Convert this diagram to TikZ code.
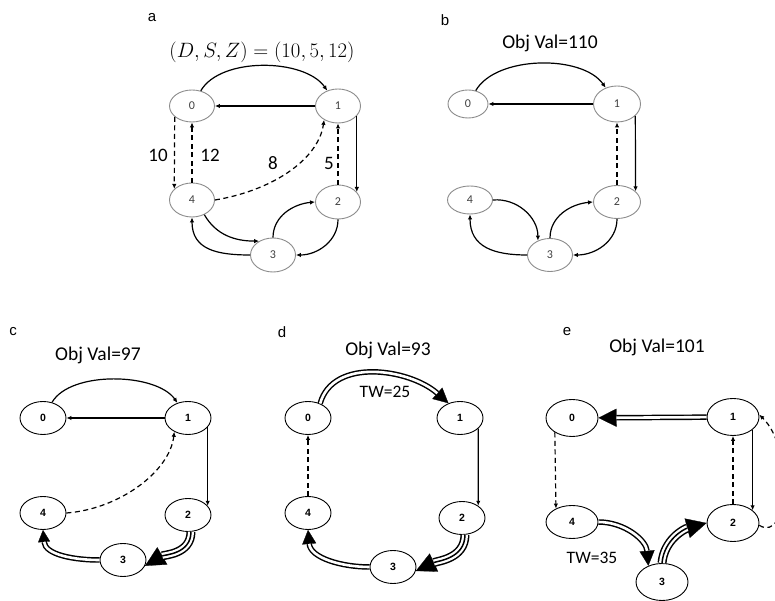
\documentclass[tikz,border=0pt]{standalone}
\usepackage{fontspec}
\setmainfont{Carlito}
\newfontfamily\arialf{Liberation Sans}
\usetikzlibrary{arrows.meta,shapes.geometric}
\begin{document}
\begin{tikzpicture}[x=1pt,y=1pt,
  nbase/.style={ellipse, inner sep=0pt, line width=0.9pt},
  na/.style={nbase, draw=black!45, minimum width=45pt, minimum height=34pt, text=black!75, font=\fontsize{12}{12}\selectfont},
  nc/.style={nbase, draw=black, minimum width=46pt, minimum height=33pt, font=\arialf\bfseries\fontsize{10.5}{10.5}\selectfont},
  ne/.style={nc, minimum width=52pt, minimum height=37pt},
  lbl/.style={font=\arialf\fontsize{15}{15}\selectfont},
  ttl/.style={font=\fontsize{19.5}{19.5}\selectfont},
  elbl/.style={font=\fontsize{19}{19}\selectfont},
  ed/.style={line width=1.2pt, -{Latex[length=5pt,width=4.5pt]}},
  dsh/.style={dash pattern=on 5pt off 3.5pt},
  dbl/.style={line width=5.5pt, -{Triangle[length=#1,width=#1,line width=0.3pt]},
    postaction={draw=white, line width=2.6pt, -, shorten >=#1}},
  trp/.style={line width=9pt, -{Triangle[length=#1,width=#1,line width=0.3pt]},
    postaction={draw=white, line width=6pt, -, shorten >=#1},
    postaction={draw=black, line width=1.5pt, -, shorten >=#1}}
]
\useasboundingbox (0,0) rectangle (775,601);
\fill[white] (0,0) rectangle (775,601);

% ---------------- panel a ----------------
\node[lbl] (la) at (152,583) {a};
\node[ttl, font=\fontsize{20}{20}\selectfont] (ta) at (262,549) {$(D,S,Z)=(10,5,12)$};
\node[na, minimum height=32pt] (a0) at (192,495) {0};
\node[na] (a1) at (338,495) {1};
\node[na] (a4) at (192,401) {4};
\node[na] (a2) at (338,399) {2};
\node[na] (a3) at (273,346) {3};
\draw[ed] (a0) to[out=60,in=125,looseness=0.8] (a1);
\draw[ed] (a1) -- (a0);
\draw[ed] (a1.-28) -- (a2.28);
\draw[ed,dsh] (a2) -- (a1);
\draw[ed,dsh] (a0.212) -- (a4.148);
\draw[ed,dsh] (a4) -- (a0);
\draw[ed,dsh] (a4.east) .. controls (270,410) and (318,440) .. (a1.225);
\draw[ed] (a4.-50) to[out=-60,in=180] (a3.135);
\draw[ed] (a3.west) to[out=180,in=-90,looseness=1.2] (a4.south);
\draw[ed] (a3.north) to[out=90,in=185] (a2.west);
\draw[ed] (a2.south) to[out=-90,in=0] (a3.east);
\node[elbl] (l10) at (158,446) {10};
\node[elbl] (l12) at (210,446) {12};
\node[elbl] (l8) at (273,438) {8};
\node[elbl] (l5) at (329,438) {5};

% ---------------- panel b ----------------
\node[lbl] (lb) at (445,581) {b};
\node[ttl] (tb) at (550,558) {Obj Val=110};
\node[na, minimum width=40pt, minimum height=28pt] (b0) at (468,497) {0};
\node[na, minimum width=47pt, minimum height=36pt] (b1) at (617,497) {1};
\node[na, minimum height=28pt] (b4) at (470,401) {4};
\node[na, minimum width=47pt, minimum height=33pt] (b2) at (617,399) {2};
\node[na, minimum height=33pt] (b3) at (550,346) {3};
\draw[ed] (b0) to[out=60,in=125,looseness=0.8] (b1);
\draw[ed] (b1) -- (b0);
\draw[ed] (b1.-33) -- (b2.30);
\draw[ed,dsh] (b2) -- (b1);
\draw[ed] (b4.east) to[out=5,in=90] (b3.130);
\draw[ed] (b3.west) to[out=180,in=-90,looseness=1.2] (b4.south);
\draw[ed] (b3.north) to[out=90,in=185] (b2.west);
\draw[ed] (b2.south) to[out=-90,in=0] (b3.east);

% ---------------- panel c ----------------
\node[lbl] (lc) at (13,269) {c};
\node[ttl] (tc) at (98,246) {Obj Val=97};
\node[nc] (c0) at (43,183) {0};
\node[nc] (c1) at (188,183) {1};
\node[nc] (c4) at (43,88) {4};
\node[nc] (c2) at (188,86) {2};
\node[nc] (c3) at (123,41) {3};
\draw[ed] (c0) to[out=60,in=125,looseness=0.75] (c1);
\draw[ed] (c1) -- (c0);
\draw[ed] (c1.-25) -- (c2.25);
\draw[ed,dsh] (c4.east) .. controls (120,92) and (170,130) .. (c1.225);
\draw[trp=20pt] (c2.-80) to[out=-90,in=30] (c3.-15);
\draw[dbl=12pt] (c3.west) to[out=180,in=-85] (c4.south);

% ---------------- panel d ----------------
\node[lbl] (ld) at (282,269) {d};
\node[ttl] (td) at (388,251) {Obj Val=93};
\node[nc] (d0) at (308,183) {0};
\node[nc] (d1) at (460,183) {1};
\node[nc] (d4) at (308,88) {4};
\node[nc] (d2) at (462,83) {2};
\node[nc] (d3) at (393,34) {3};
\draw[dbl=15pt] (d0.50) .. controls (333,244) and (410,232) .. (d1.128);
\draw[ed] (d1.-30) -- (d2.37);
\draw[trp=20pt] (d2.-80) to[out=-90,in=25] (d3.-10);
\draw[dbl=14pt] (d3.west) to[out=180,in=-85] (d4.south);
\draw[ed,dsh] (d4) -- (d0);
\node[elbl, font=\fontsize{17.5}{17.5}\selectfont] (tw25) at (385,209) {TW=25};

% ---------------- panel e ----------------
\node[lbl] (le) at (567,269) {e};
\node[ttl] (te) at (657,254) {Obj Val=101};
\node[ne] (e0) at (572,183) {0};
\node[ne] (e1) at (733,184) {1};
\node[ne, minimum height=33pt] (e4) at (572,79) {4};
\node[ne] (e2) at (733,78) {2};
\node[ne] (e3) at (662,19) {3};
\draw[dbl=18pt] (e1) -- (e0);
\draw[ed,dsh] (e0.220) -- (e4.140);
\draw[ed] (e1.-33) -- (e2.33);
\draw[ed,dsh] (e2) -- (e1);
\draw[ed,dsh] (e2.-5) .. controls (789,57) and (794,153) .. (e1.5);
\draw[dbl=15pt] (e4.east) to[out=0,in=95] (e3.130);
\draw[trp=20pt] (e3.north) to[out=85,in=195] (e2.west);
\node[elbl, font=\fontsize{17.5}{17.5}\selectfont] (tw35) at (592,43) {TW=35};
\end{tikzpicture}
\end{document}
